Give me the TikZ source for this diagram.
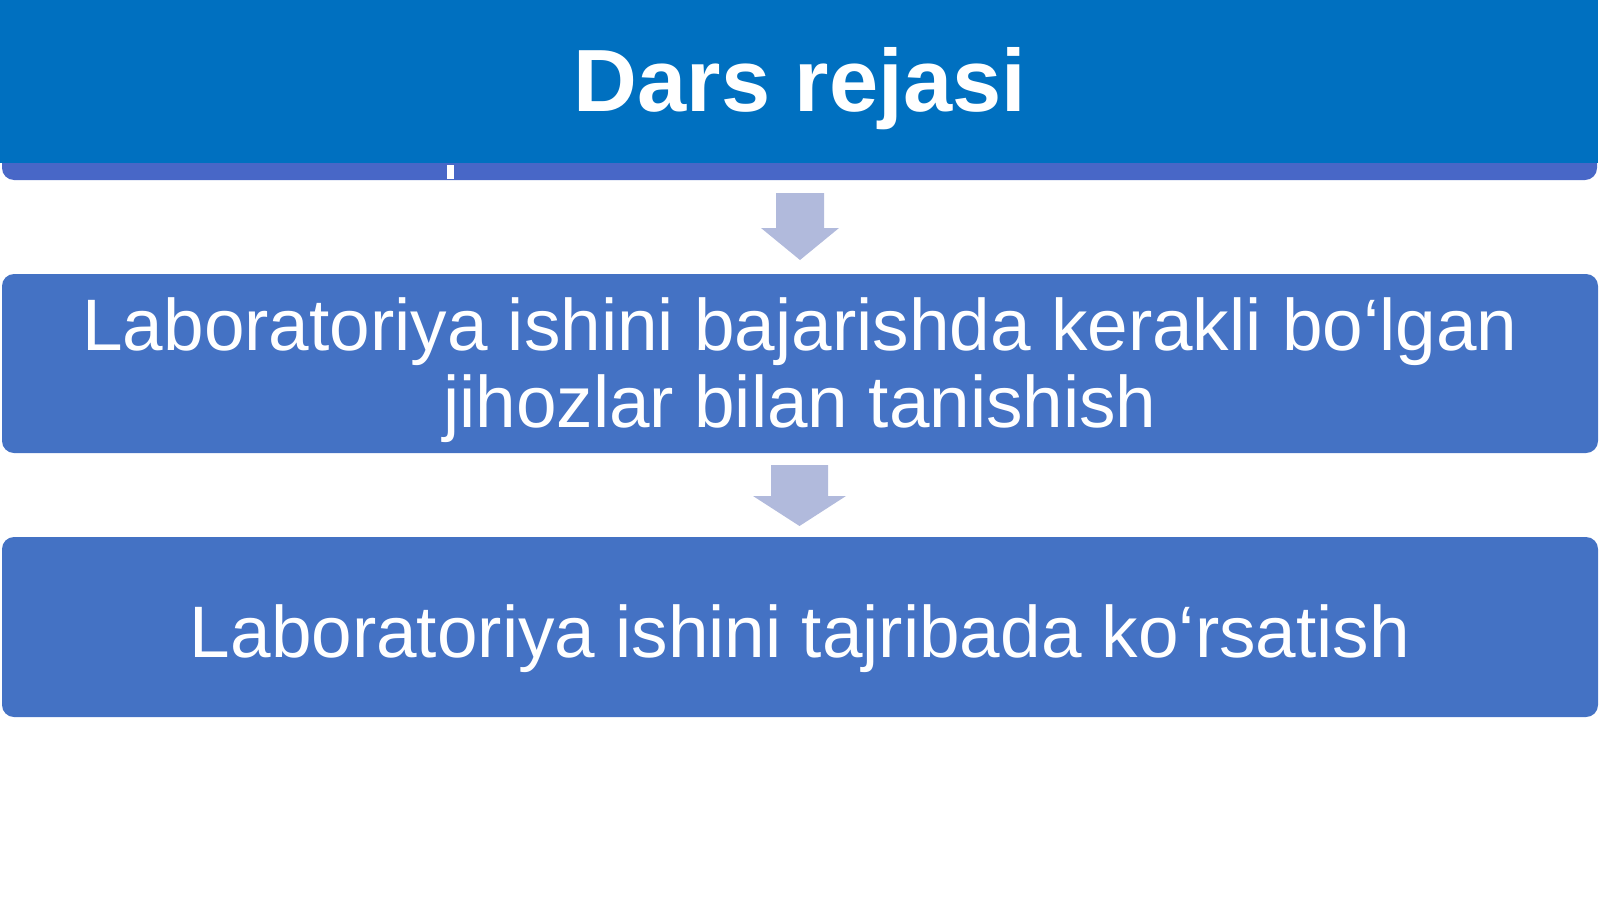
\documentclass[tikz,border=0pt]{standalone}
\usepackage{fontspec}
\setmainfont{Liberation Sans}
\definecolor{titleblue}{HTML}{0070C0}
\definecolor{boxblue}{HTML}{4472C4}
\definecolor{bandblue}{HTML}{4867C7}
\definecolor{arrowgrey}{HTML}{B1BADC}

\begin{document}
\begin{tikzpicture}[x=0.2mm, y=-0.2mm,
		panel/.style={fill=boxblue, rounded corners=2.4mm},
		flow/.style={fill=arrowgrey},
		plantext/.style={white, inner sep=0pt, anchor=base, align=center,
			font=\fontsize{41.5}{43.8}\selectfont}]
	\useasboundingbox (0,0) rectangle (1600,899);
	% title bar
	\fill[panel, fill=bandblue] (2,0) rectangle (1597,180);
	\fill[titleblue] (0,0) rectangle (1598,163);
	\fill[white] (447,165) rectangle (454,179);
	\node[plantext, font=\fontsize{50.3}{60}\selectfont\bfseries] (title) at (800,111) {Dars rejasi};
	% arrows
	\fill[flow] (776,193) -- (824,193) -- (824,228) -- (839,228) -- (800,260) -- (761,228) -- (776,228) -- cycle;
	\fill[flow] (771,465) -- (828,465) -- (828,496) -- (846,496) -- (799.5,526) -- (753,496) -- (771,496) -- cycle;
	% boxes
	\fill[panel] (2,274) rectangle (1598,453);
	\node[plantext] (jihozlar) at (800,427) {Laboratoriya ishini bajarishda kerakli bo‘lgan\\jihozlar bilan tanishish};
	\fill[panel] (2,537) rectangle (1598,717);
	\node[plantext] (tajriba) at (800,657) {Laboratoriya ishini tajribada ko‘rsatish};
\end{tikzpicture}
\end{document}
